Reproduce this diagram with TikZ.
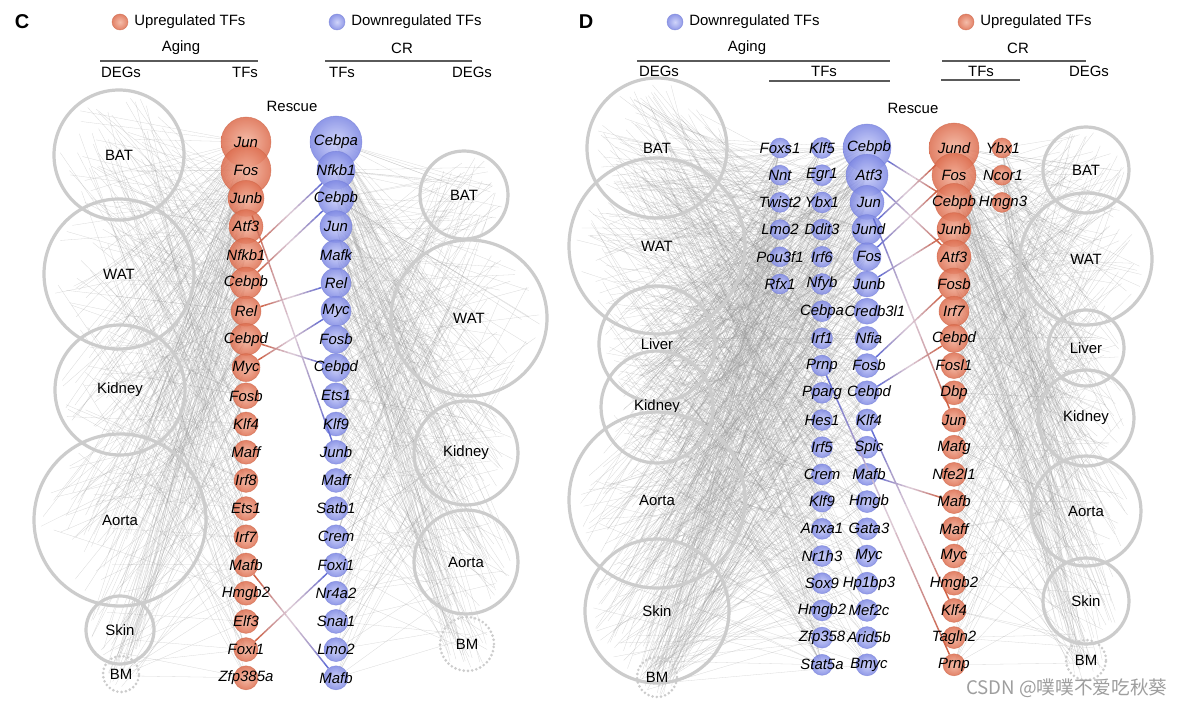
\documentclass[tikz,border=0pt]{standalone}
\usepackage{fontspec}
\setmainfont{Liberation Sans}
\newfontfamily\cjkfont{Noto Sans CJK SC}
\usetikzlibrary{calc}
\definecolor{orgline}{RGB}{204,204,204}
\definecolor{netgray}{RGB}{150,150,150}
\definecolor{hdrline}{RGB}{90,90,90}
\definecolor{upI}{RGB}{244,180,158}
\definecolor{upO}{RGB}{222,112,82}
\definecolor{upE}{RGB}{205,100,70}
\definecolor{dnI}{RGB}{202,207,250}
\definecolor{dnO}{RGB}{128,138,228}
\definecolor{dnE}{RGB}{115,125,215}
\definecolor{resUp}{RGB}{210,90,55}
\definecolor{resDn}{RGB}{90,105,215}
\newcommand\fs{\fontsize{11.2}{13}\selectfont}
\tikzset{
  organ/.style={circle, draw=orgline, line width=2.4pt, inner sep=0pt, minimum size={#1*0.75pt}, font=\fs},
  organbm/.style={circle, draw=orgline, line width=2.2pt, dash pattern=on 0pt off 3.2pt, line cap=round, inner sep=0pt, minimum size={#1*0.75pt}, font=\fs},
  ballup/.style={circle, inner sep=0pt, minimum size={#1*0.75pt}, inner color=upI, outer color=upO, draw=upE, line width=0.4pt, fill opacity=0.88, draw opacity=0.6},
  balldn/.style={circle, inner sep=0pt, minimum size={#1*0.75pt}, inner color=dnI, outer color=dnO, draw=dnE, line width=0.4pt, fill opacity=0.88, draw opacity=0.6},
  tf/.style={font=\fs\itshape, inner sep=0pt},
  hdr/.style={font=\fs, inner sep=0pt},
  ttl/.style={font=\fontsize{15}{17}\selectfont\bfseries, inner sep=0pt},
  hline/.style={draw=hdrline, line width=0.9pt},
  net/.style={draw=netgray, line width=0.22pt, opacity=0.36},
  rescue/.style={line width=1.1pt, line cap=butt},
}
\newcommand\netlines[4]{%
  \foreach \q in {1,...,#4}{%
    \pgfmathsetmacro\ang{360*rnd}%
    \pgfmathsetmacro\rr{#2*0.92*sqrt(rnd)}%
    \draw[net] ($(#1)+(\ang:\rr)$) -- (#3);
  }}
\newcommand\rescue[2]{%
  \path (#1) -- (#2) coordinate[pos=0] (rsA) coordinate[pos=1] (rsB);
  \foreach \i in {0,...,15}{%
    \pgfmathsetmacro\ta{\i/16}%
    \pgfmathsetmacro\tb{(\i+1)/16}%
    \pgfmathsetmacro\tm{(\i+0.5)/16}%
    \pgfmathsetmacro\pa{100*(1-\tm)}%
    \pgfmathsetmacro\pw{100-70*(1-abs(2*\tm-1))}%
    \draw[rescue, draw={resUp!\pa!resDn!\pw!white}] ($(rsA)!\ta!(rsB)$) -- ($(rsA)!\tb!(rsB)$);
  }}
\def\CupList{Jun/25,Fos/25,Junb/18,Atf3/17,Nfkb1/17,Cebpb/16,Rel/15,Cebpd/16,Myc/14,Fosb/13,Klf4/12,Maff/12,Irf8/12,Ets1/12,Irf7/12,Mafb/12,Hmgb2/12,Elf3/12,Foxi1/12,Zfp385a/12}
\def\CdnList{Cebpa/26,Nfkb1/19,Cebpb/18,Jun/16,Mafk/15,Rel/15,Myc/15,Fosb/14,Cebpd/14,Ets1/13,Klf9/12,Junb/12,Maff/12,Satb1/12,Crem/12,Foxi1/12,Nr4a2/12,Snai1/12,Lmo2/12,Mafb/12}
\def\DcA{Foxs1,Nnt,Twist2,Lmo2,Pou3f1,Rfx1}
\def\DcB{Klf5,Egr1,Ybx1,Ddit3,Irf6,Nfyb,Cebpa,Irf1,Prnp,Pparg,Hes1,Irf5,Crem,Klf9,Anxa1,Nr1h3,Sox9,Hmgb2,Zfp358,Stat5a}
\def\DcC{Cebpb/24,Atf3/21,Jun/17,Jund/15,Fos/14,Junb/13,Credb3l1/13,Nfia/12,Fosb/12,Cebpd/12,Klf4/11,Spic/11,Mafb/11,Hmgb/11,Gata3/11,Myc/11,Hp1bp3/11,Mef2c/11,Arid5b/11,Bmyc/11}
\def\DcD{Jund/25,Fos/22,Cebpb/19,Junb/17,Atf3/17,Fosb/16,Irf7/15,Cebpd/14,Fosl1/13,Dbp/12,Jun/12,Mafg/12,Nfe2l1/12,Mafb/12,Maff/12,Myc/12,Hmgb2/12,Klf4/12,Tagln2/11,Prnp/11}
\def\DcE{Ybx1,Ncor1,Hmgn3}
\begin{document}
\begin{tikzpicture}[x=0.75pt,y=-0.75pt]
\useasboundingbox (0,0) rectangle (1190,709);
\fill[white] (0,0) rectangle (1190,709);
\pgfmathsetseed{7}
% ---------- coordinates ----------
\coordinate (oCL1) at (119,155); \coordinate (oCL2) at (119,274);
\coordinate (oCL3) at (120,390); \coordinate (oCL4) at (120,520);
\coordinate (oCL5) at (120,630); \coordinate (oCL6) at (121,674);
\coordinate (oCR1) at (464,195); \coordinate (oCR2) at (469,318);
\coordinate (oCR3) at (466,453); \coordinate (oCR4) at (466,562);
\coordinate (oCR5) at (467,644);
\coordinate (oDL1) at (657,148); \coordinate (oDL2) at (657,246);
\coordinate (oDL3) at (657,344); \coordinate (oDL4) at (657,407);
\coordinate (oDL5) at (657,500); \coordinate (oDL6) at (657,611);
\coordinate (oDL7) at (657,677);
\coordinate (oDR1) at (1086,170); \coordinate (oDR2) at (1086,259);
\coordinate (oDR3) at (1086,348); \coordinate (oDR4) at (1086,418);
\coordinate (oDR5) at (1086,511); \coordinate (oDR6) at (1086,601);
\coordinate (oDR7) at (1086,660);
\foreach \nm/\r [count=\k from 0] in \CupList {\coordinate (cu\k) at (246,{142+28.2*\k});}
\foreach \nm/\r [count=\k from 0] in \CdnList {\coordinate (cd\k) at (336,{142+28.2*\k});}
\foreach \nm [count=\k from 0] in \DcA {\coordinate (da\k) at (780,{148+27.2*\k});}
\foreach \nm [count=\k from 0] in \DcB {\coordinate (db\k) at (822,{148+27.2*\k});}
\foreach \nm/\r [count=\k from 0] in \DcC {\coordinate (dc\k) at (867,{148+27.2*\k});}
\foreach \nm/\r [count=\k from 0] in \DcD {\coordinate (dd\k) at (954,{148+27.2*\k});}
\foreach \nm [count=\k from 0] in \DcE {\coordinate (de\k) at (1002,{148+27.2*\k});}
% ---------- network ----------
\foreach \o/\rad in {oCL1/65,oCL2/75,oCL3/65,oCL4/86,oCL5/34,oCL6/18}{
  \foreach \k in {0,...,19}{
    \pgfmathtruncatemacro\nn{max(1,(8-\k/3)*\rad/72)}
    \netlines{\o}{\rad}{cu\k}{\nn}
  }}
\foreach \o/\rad in {oCR1/44,oCR2/78,oCR3/52,oCR4/52,oCR5/27}{
  \foreach \k in {0,...,19}{
    \pgfmathtruncatemacro\nn{max(1,(8-\k/3)*\rad/60)}
    \netlines{\o}{\rad}{cd\k}{\nn}
  }}
\foreach \o/\rad in {oDL1/70,oDL2/88,oDL3/58,oDL4/56,oDL5/88,oDL6/72,oDL7/20}{
  \foreach \k in {0,...,19}{
    \pgfmathtruncatemacro\nn{max(1,(7-\k/3)*\rad/72)}
    \netlines{\o}{\rad}{dc\k}{\nn}
    \pgfmathtruncatemacro\nb{max(1,3*\rad/72)}
    \netlines{\o}{\rad}{db\k}{\nb}
  }
  \foreach \k in {0,...,5}{\netlines{\o}{\rad}{da\k}{3}}
  }
\foreach \o/\rad in {oDR1/43,oDR2/66,oDR3/38,oDR4/48,oDR5/55,oDR6/43,oDR7/20}{
  \foreach \k in {0,...,19}{
    \pgfmathtruncatemacro\nn{max(1,(7-\k/3)*\rad/55)}
    \netlines{\o}{\rad}{dd\k}{\nn}
  }
  \foreach \k in {0,...,2}{\netlines{\o}{\rad}{de\k}{2}}
  }
% ---------- organs ----------
\node[organ=130] (nCL1) at (oCL1) {BAT};
\node[organ=150] (nCL2) at (oCL2) {WAT};
\node[organ=130] (nCL3) at (oCL3) {Kidney};
\node[organ=172] (nCL4) at (oCL4) {Aorta};
\node[organ=68]  (nCL5) at (oCL5) {Skin};
\node[organbm=36] (nCL6) at (oCL6) {BM};
\node[organ=88]  (nCR1) at (oCR1) {BAT};
\node[organ=156] (nCR2) at (oCR2) {WAT};
\node[organ=104] (nCR3) at (oCR3) {Kidney};
\node[organ=104] (nCR4) at (oCR4) {Aorta};
\node[organbm=54] (nCR5) at (oCR5) {BM};
\node[organ=140] (nDL1) at (oDL1) {BAT};
\node[organ=176] (nDL2) at (oDL2) {WAT};
\node[organ=116] (nDL3) at (oDL3) {Liver};
\node[organ=112] (nDL4) at (oDL4) {Kidney};
\node[organ=176] (nDL5) at (oDL5) {Aorta};
\node[organ=144] (nDL6) at (oDL6) {Skin};
\node[organbm=40] (nDL7) at (oDL7) {BM};
\node[organ=86]  (nDR1) at (oDR1) {BAT};
\node[organ=132] (nDR2) at (oDR2) {WAT};
\node[organ=76]  (nDR3) at (oDR3) {Liver};
\node[organ=96]  (nDR4) at (oDR4) {Kidney};
\node[organ=110] (nDR5) at (oDR5) {Aorta};
\node[organ=86]  (nDR6) at (oDR6) {Skin};
\node[organbm=40] (nDR7) at (oDR7) {BM};
% ---------- balls ----------
\foreach \nm/\r [count=\k from 0] in \CupList {\node[ballup={2*\r}] (bu\k) at (cu\k) {};}
\foreach \nm/\r [count=\k from 0] in \CdnList {\node[balldn={2*\r}] (bd\k) at (cd\k) {};}
\foreach \nm [count=\k from 0] in \DcA {\node[balldn=20] (ba\k) at (da\k) {};}
\foreach \nm [count=\k from 0] in \DcB {\node[balldn=21] (bb\k) at (db\k) {};}
\foreach \nm/\r [count=\k from 0] in \DcC {\node[balldn={2*\r}] (bc\k) at (dc\k) {};}
\foreach \nm/\r [count=\k from 0] in \DcD {\node[ballup={2*\r}] (bdd\k) at (dd\k) {};}
\foreach \nm [count=\k from 0] in \DcE {\node[ballup=20] (be\k) at (de\k) {};}
% ---------- rescue lines ----------
\rescue{bu4}{bd1}
\rescue{bu5}{bd2}
\rescue{bu6}{bd5}
\rescue{bu8}{bd6}
\rescue{bu7}{bd8}
\rescue{bu2}{bd11}
\rescue{bu15}{bd19}
\rescue{bu18}{bd15}
\rescue{bdd2}{bc0}
\rescue{bdd4}{bc1}
\rescue{bdd10}{bc2}
\rescue{bdd0}{bc3}
\rescue{bdd1}{bc4}
\rescue{bdd3}{bc5}
\rescue{bdd5}{bc8}
\rescue{bdd7}{bc9}
\rescue{bdd17}{bc10}
\rescue{bdd13}{bc12}
\rescue{bdd19}{bb8}
% ---------- TF labels ----------
\foreach \nm/\r [count=\k from 0] in \CupList {\node[tf] (tu\k) at (cu\k) {\nm};}
\foreach \nm/\r [count=\k from 0] in \CdnList {\node[tf] (td\k) at (cd\k) {\nm};}
\foreach \nm [count=\k from 0] in \DcA {\node[tf] (ta\k) at (da\k) {\nm};}
\foreach \nm [count=\k from 0] in \DcB {\node[tf] (tb\k) at (db\k) {\nm};}
\foreach \nm/\r [count=\k from 0] in \DcC {\pgfmathsetmacro\lx{\k==6 ? 875 : 869}\node[tf] (tc\k) at (\lx,{148+27.2*\k}) {\nm};}
\foreach \nm/\r [count=\k from 0] in \DcD {\node[tf] (tdd\k) at (dd\k) {\nm};}
\foreach \nm [count=\k from 0] in \DcE {\node[tf] (te\k) at (1003,{148+27.2*\k}) {\nm};}
% ---------- headers C ----------
\node[ttl] (tC) at (22,22) {C};
\node[ballup=16] (lgC1) at (120,22) {};
\node[hdr, anchor=west] (lgC1t) at (134,22) {Upregulated TFs};
\node[balldn=16] (lgC2) at (337,22) {};
\node[hdr, anchor=west] (lgC2t) at (351,22) {Downregulated TFs};
\node[hdr] (agC) at (181,48) {Aging};
\coordinate (agCa) at (100,61); \coordinate (agCb) at (258,61);
\draw[hline] (agCa) -- (agCb);
\node[hdr] (degC1) at (121,72) {DEGs};
\node[hdr] (tfC1) at (245,72) {TFs};
\node[hdr] (crC) at (402,48) {CR};
\coordinate (crCa) at (325,61); \coordinate (crCb) at (472,61);
\draw[hline] (crCa) -- (crCb);
\node[hdr] (tfC2) at (342,72) {TFs};
\node[hdr] (degC2) at (472,72) {DEGs};
\node[hdr] (resC) at (292,106) {Rescue};
% ---------- headers D ----------
\node[ttl] (tD) at (586,22) {D};
\node[balldn=16] (lgD1) at (675,22) {};
\node[hdr, anchor=west] (lgD1t) at (689,22) {Downregulated TFs};
\node[ballup=16] (lgD2) at (966,22) {};
\node[hdr, anchor=west] (lgD2t) at (980,22) {Upregulated TFs};
\node[hdr] (agD) at (747,48) {Aging};
\coordinate (agDa) at (637,61); \coordinate (agDb) at (890,61);
\draw[hline] (agDa) -- (agDb);
\node[hdr] (degD1) at (659,71) {DEGs};
\node[hdr] (tfD1) at (824,71) {TFs};
\coordinate (tfDa) at (769,81); \coordinate (tfDb) at (890,81);
\draw[hline] (tfDa) -- (tfDb);
\node[hdr] (crD) at (1018,48) {CR};
\coordinate (crDa) at (942,61); \coordinate (crDb) at (1086,61);
\draw[hline] (crDa) -- (crDb);
\node[hdr] (tfD2) at (981,71) {TFs};
\coordinate (tfDc) at (941,80); \coordinate (tfDd) at (1020,80);
\draw[hline] (tfDc) -- (tfDd);
\node[hdr] (degD2) at (1089,71) {DEGs};
\node[hdr] (resD) at (913,108) {Rescue};
% ---------- watermark ----------
\node[font=\cjkfont\fontsize{14}{16}\selectfont, text=black!38, anchor=west, inner sep=0pt] (wm) at (966,688) {CSDN @噗噗不爱吃秋葵};
\end{tikzpicture}
\end{document}
